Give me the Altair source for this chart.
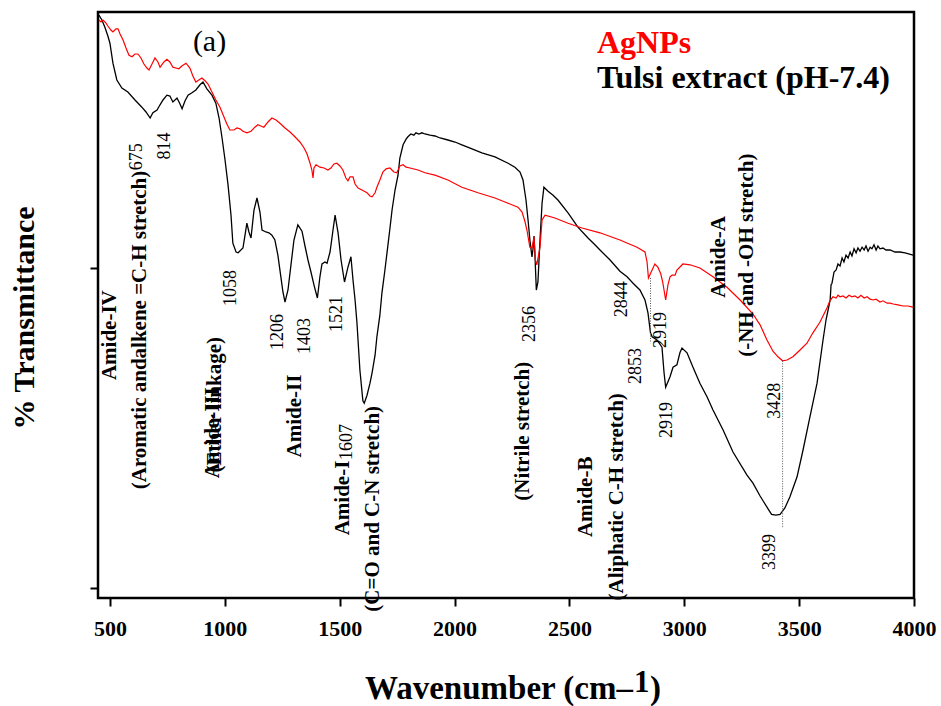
import altair as alt
import pandas as pd

# FTIR spectrum of the Tulsi extract (pH 7.4), wavenumber (cm-1) vs transmittance (a.u.)
black_wn = [
    452, 465, 478, 491, 500, 513, 530, 552, 578, 609,
    639, 657, 675, 687, 705, 718, 731, 748, 761, 774,
    792, 805, 814, 827, 840, 857, 874, 892, 905, 922,
    944, 961, 975, 988, 1001, 1014, 1027, 1035, 1049, 1058,
    1079, 1088, 1096, 1105, 1114, 1127, 1140, 1153, 1162, 1179,
    1192, 1205, 1218, 1231, 1244, 1253, 1262, 1275, 1288, 1301,
    1318, 1336, 1349, 1362, 1375, 1388, 1403, 1414, 1423, 1436,
    1445, 1458, 1471, 1480, 1493, 1506, 1521, 1536, 1549, 1558,
    1567, 1575, 1588, 1601, 1607, 1619, 1632, 1641, 1654, 1662,
    1675, 1684, 1697, 1706, 1719, 1728, 1741, 1754, 1762, 1776,
    1789, 1797, 1810, 1823, 1832, 1845, 1858, 1871, 1893, 1915,
    1937, 1971, 2002, 2032, 2076, 2119, 2176, 2233, 2263, 2285,
    2298, 2311, 2320, 2328, 2337, 2341, 2346, 2350, 2356, 2363,
    2372, 2381, 2389, 2407, 2429, 2450, 2494, 2537, 2581, 2611,
    2633, 2677, 2720, 2751, 2777, 2807, 2829, 2842, 2853, 2860,
    2881, 2903, 2912, 2919, 2938, 2951, 2968, 2981, 2990, 3012,
    3038, 3068, 3099, 3125, 3169, 3212, 3273, 3299, 3330, 3360,
    3380, 3399, 3417, 3438, 3460, 3491, 3517, 3547, 3578, 3604,
    3617, 3626, 3635, 3639, 3643, 3652, 3661, 3669, 3678, 3687,
    3695, 3704, 3713, 3722, 3730, 3739, 3748, 3756, 3765, 3774,
    3783, 3791, 3800, 3809, 3817, 3826, 3835, 3843, 3852, 3865,
    3878, 3896, 3917, 3939, 3961, 3996,
]
black_t = [
    81.6, 81.0, 80.1, 79.0, 78.1, 75.6, 73.5, 72.5, 72.0, 71.0,
    70.1, 69.5, 68.75, 69.4, 69.75, 70.4, 71.0, 71.6, 71.5, 70.75,
    71.25, 70.5, 69.9, 70.9, 71.6, 71.9, 72.25, 72.9, 73.25, 72.4,
    71.6, 70.6, 68.75, 66.25, 63.5, 60.4, 56.6, 53.1, 52.0, 51.9,
    52.5, 54.1, 55.6, 54.5, 53.75, 57.25, 58.75, 57.0, 54.75, 54.5,
    54.4, 54.1, 53.5, 51.6, 48.9, 47.0, 45.75, 47.25, 50.4, 53.5,
    55.4, 54.6, 52.75, 51.0, 49.5, 47.9, 46.25, 48.9, 50.5, 50.75,
    50.6, 52.0, 54.75, 56.6, 54.4, 51.0, 48.25, 50.1, 51.4, 48.5,
    46.0, 43.25, 37.25, 33.4, 33.1, 34.1, 35.6, 36.9, 39.1, 41.4,
    44.1, 46.9, 49.75, 51.9, 55.0, 57.25, 59.75, 61.6, 63.75, 65.4,
    66.1, 66.4, 66.75, 66.6, 66.9, 66.75, 66.9, 66.75, 66.6, 66.5,
    66.25, 66.0, 65.75, 65.4, 64.9, 64.4, 63.9, 63.1, 62.6, 62.0,
    61.0, 58.5, 56.0, 53.5, 51.4, 52.25, 54.0, 51.6, 47.25, 48.25,
    53.5, 58.1, 60.1, 59.6, 59.1, 58.5, 56.9, 55.1, 53.75, 52.9,
    52.25, 51.0, 49.6, 48.9, 48.1, 47.25, 46.0, 44.4, 41.9, 41.4,
    41.0, 40.1, 36.9, 35.1, 36.4, 37.6, 37.9, 39.4, 40.0, 39.4,
    37.6, 35.6, 33.9, 32.25, 29.75, 27.0, 24.1, 23.1, 21.5, 20.1,
    19.2, 19.1, 19.2, 20.0, 21.4, 23.9, 27.25, 31.4, 35.6, 41.0,
    43.5, 44.75, 46.0, 47.9, 48.1, 49.5, 49.75, 50.5, 50.25, 51.25,
    50.75, 51.6, 51.25, 52.0, 51.5, 52.4, 51.9, 52.5, 52.1, 52.6,
    52.25, 52.75, 52.1, 52.6, 52.4, 52.9, 52.25, 52.75, 52.4, 52.5,
    52.25, 52.25, 52.0, 52.0, 51.9, 51.6,
]

# FTIR spectrum of the silver nanoparticles
red_wn = [
    452, 461, 470, 483, 491, 504, 513, 526, 535, 544,
    557, 570, 583, 596, 609, 622, 635, 648, 661, 670,
    683, 696, 709, 718, 735, 748, 761, 774, 787, 800,
    813, 831, 848, 861, 874, 887, 900, 914, 927, 944,
    961, 979, 996, 1009, 1022, 1040, 1053, 1066, 1079, 1096,
    1114, 1131, 1144, 1157, 1170, 1188, 1205, 1223, 1240, 1262,
    1284, 1305, 1327, 1345, 1358, 1371, 1379, 1384, 1388, 1397,
    1414, 1432, 1449, 1462, 1475, 1488, 1501, 1514, 1527, 1536,
    1545, 1558, 1567, 1580, 1597, 1619, 1632, 1641, 1654, 1662,
    1675, 1688, 1702, 1719, 1736, 1749, 1762, 1776, 1789, 1806,
    1841, 1871, 1915, 1971, 2032, 2102, 2176, 2233, 2276, 2294,
    2307, 2315, 2328, 2337, 2346, 2352, 2358, 2372, 2381, 2394,
    2437, 2494, 2555, 2633, 2720, 2794, 2829, 2838, 2844, 2860,
    2872, 2885, 2898, 2907, 2919, 2929, 2938, 2947, 2960, 2968,
    2994, 3025, 3068, 3125, 3186, 3243, 3299, 3330, 3360, 3386,
    3408, 3428, 3447, 3473, 3504, 3534, 3560, 3591, 3621, 3634,
    3647, 3661, 3669, 3678, 3691, 3704, 3717, 3730, 3743, 3756,
    3769, 3783, 3796, 3809, 3822, 3835, 3852, 3865, 3883, 3896,
    3909, 3930, 3952, 3974, 3996,
]
red_t = [
    81.0, 80.75, 81.0, 80.6, 80.25, 79.75, 79.5, 79.9, 79.9, 79.25,
    78.5, 77.5, 76.6, 76.4, 76.75, 76.75, 76.25, 75.5, 75.0, 74.75,
    75.5, 76.25, 75.75, 75.1, 75.75, 76.1, 75.75, 75.1, 75.0, 74.9,
    75.25, 75.6, 75.0, 74.0, 73.25, 73.5, 73.75, 73.4, 73.0, 72.0,
    71.0, 70.1, 68.9, 68.0, 67.25, 67.25, 67.5, 67.4, 67.1, 66.9,
    67.1, 67.6, 67.9, 67.75, 67.6, 68.25, 68.75, 68.5, 68.1, 67.5,
    67.0, 66.4, 65.75, 65.0, 64.25, 63.1, 62.25, 61.25, 62.5, 62.9,
    62.6, 62.5, 62.25, 62.5, 63.0, 63.1, 62.75, 62.25, 61.25, 60.9,
    61.4, 61.4, 60.5, 60.0, 59.75, 59.4, 59.0, 58.9, 59.4, 60.1,
    61.0, 62.0, 62.4, 62.5, 62.0, 61.9, 62.75, 62.9, 62.6, 62.5,
    62.25, 61.9, 61.6, 61.0, 60.1, 59.4, 58.75, 58.1, 57.6, 57.0,
    55.75, 54.75, 52.6, 52.5, 53.9, 51.0, 50.4, 52.6, 56.0, 56.6,
    56.25, 55.6, 55.0, 54.4, 53.5, 52.6, 52.0, 50.75, 48.75, 49.75,
    50.5, 50.1, 49.25, 48.1, 46.0, 47.9, 48.9, 49.1, 49.1, 49.75,
    50.5, 50.4, 50.0, 48.9, 47.6, 46.0, 44.25, 42.9, 41.0, 39.6,
    38.9, 38.4, 38.5, 38.9, 39.75, 40.6, 41.9, 43.25, 45.0, 45.9,
    46.4, 46.25, 46.6, 46.4, 46.5, 46.25, 46.6, 46.4, 46.5, 46.25,
    46.6, 46.25, 46.4, 46.1, 46.0, 46.1, 45.75, 45.9, 45.6, 45.6,
    45.5, 45.4, 45.25, 45.25, 45.1,
]

x_ticks = [500, 1000, 1500, 2000, 2500, 3000, 3500, 4000]
y_ticks = [10, 50]

# Peak positions written next to the bands
peak_text = ["675", "814", "1058", "1206", "1403", "1521", "1607",
             "2356", "2844", "2919", "2853", "2919", "3428", "3399"]
peak_wn = [618, 739, 1027, 1231, 1349, 1488, 1532,
           2328, 2729, 2899, 2790, 2925, 3395, 3373]
peak_t = [63.9, 65.25, 47.5, 42.0, 41.5, 44.25, 28.25,
          43.0, 46.1, 42.25, 37.75, 31.0, 33.4, 14.5]

# Band assignments
band_text = ["Amide-IV", "(Aromatic andalkene =C-H stretch)",
             "(Ether linkage)", "Amide-III", "Amide-II", "Amide-I",
             "(C=O and C-N stretch)", "(Nitrile stretch)", "Amide-B",
             "(Aliphatic C-H stretch)", "Amide-A", "(-NH and -OH stretch)"]
band_wn = [500, 631, 957, 948, 1305, 1514, 1645, 2298, 2572, 2707, 3151, 3273]
band_t = [41.6, 42.25, 32.9, 29.4, 31.5, 21.25, 19.9, 29.6, 21.4, 21.4, 51.4, 51.6]

# Dotted drop lines linking the AgNP bands to the extract bands
guide_wn = [2853, 3428]
guide_top = [48.75, 38.4]
guide_bottom = [40.6, 17.6]

# Series names
series_names = ["AgNPs", "Tulsi extract (pH-7.4)"]
series_colors = ["#ff0000", "#000000"]
legend_wn = [2620, 2620]
legend_t = [78.1, 73.75]

FONT = "Liberation Serif"
x_scale = alt.Scale(domain=[448, 4000], nice=False, zero=False)
y_scale = alt.Scale(domain=[8.75, 82], nice=False, zero=False)

black_df = pd.DataFrame({"wn": black_wn, "t": black_t})
red_df = pd.DataFrame({"wn": red_wn, "t": red_t})
peak_df = pd.DataFrame({"wn": peak_wn, "t": peak_t, "label": peak_text})
band_df = pd.DataFrame({"wn": band_wn, "t": band_t, "label": band_text})
guide_df = pd.DataFrame({"wn": guide_wn, "t": guide_top, "t2": guide_bottom})
legend_df = pd.DataFrame({"wn": legend_wn, "t": legend_t, "label": series_names,
                          "color": series_colors})

x_axis = alt.Axis(values=x_ticks, format="d", title=None, grid=False, domain=False,
                  labelFont=FONT, labelFontWeight="bold", labelFontSize=22,
                  labelColor="black", labelPadding=12, labelFlush=False,
                  labelOverlap=False, tickColor="black", tickWidth=2, tickSize=8)
y_axis = alt.Axis(values=y_ticks, labels=False, title=None, grid=False, domain=False,
                  tickColor="black", tickWidth=2, tickSize=8)

black_line = alt.Chart(black_df).mark_line(color="black", strokeWidth=1.3).encode(
    x=alt.X("wn:Q", scale=x_scale, axis=x_axis),
    y=alt.Y("t:Q", scale=y_scale, axis=y_axis),
    order="wn:Q",
)
red_line = alt.Chart(red_df).mark_line(color="#ff0000", strokeWidth=1.2).encode(
    x=alt.X("wn:Q"), y=alt.Y("t:Q"), order="wn:Q",
)
guides = alt.Chart(guide_df).mark_rule(color="#555555", strokeWidth=1,
                                       strokeDash=[1, 1.5]).encode(
    x="wn:Q", y="t:Q", y2="t2:Q",
)
peaks = alt.Chart(peak_df).mark_text(font=FONT, fontSize=18, angle=270,
                                     align="center", baseline="middle",
                                     color="black").encode(
    x="wn:Q", y="t:Q", text="label:N",
)
bands = alt.Chart(band_df).mark_text(font=FONT, fontSize=21, fontWeight="bold",
                                     angle=270, align="center", baseline="middle",
                                     color="black").encode(
    x="wn:Q", y="t:Q", text="label:N",
)
legend = alt.Chart(legend_df).mark_text(font=FONT, fontSize=32, fontWeight="bold",
                                        align="left", baseline="middle").encode(
    x="wn:Q", y="t:Q", text="label:N",
    color=alt.Color("color:N", scale=None),
)
panel = alt.Chart(pd.DataFrame({"wn": [861], "t": [78.25], "label": ["(a)"]})).mark_text(
    font=FONT, fontSize=30, align="left", baseline="middle", color="black"
).encode(x="wn:Q", y="t:Q", text="label:N")

# Axis titles, with a raised "1" in the unit
one = pd.DataFrame({"k": [0]})
x_title = alt.Chart(one).mark_text(text="Wavenumber (cm\u2013", font=FONT, fontSize=33,
                                   fontWeight="bold", align="right",
                                   baseline="alphabetic", color="black").encode(
    x=alt.value(535), y=alt.value(687))
x_title_sup = alt.Chart(one).mark_text(text="1", font=FONT, fontSize=31,
                                       fontWeight="bold", align="left",
                                       baseline="alphabetic", color="black").encode(
    x=alt.value(536), y=alt.value(680))
x_title_end = alt.Chart(one).mark_text(text=")", font=FONT, fontSize=33,
                                       fontWeight="bold", align="left",
                                       baseline="alphabetic", color="black").encode(
    x=alt.value(552), y=alt.value(687))
y_title = alt.Chart(one).mark_text(text="% Transmittance", font=FONT, fontSize=30,
                                   fontWeight="bold", angle=270, align="center",
                                   baseline="middle", color="black").encode(
    x=alt.value(-73), y=alt.value(306))

chart = alt.layer(
    black_line, red_line, guides, peaks, bands, legend, panel,
    x_title, x_title_sup, x_title_end, y_title,
).properties(
    width=816, height=586,
    autosize=alt.AutoSizeParams(type="none"),
    padding={"left": 98, "top": 12, "right": 27, "bottom": 108},
).configure_view(
    stroke="black", strokeWidth=2.5
)

chart.save("out.html", embed_options={"renderer": "svg", "actions": False})
